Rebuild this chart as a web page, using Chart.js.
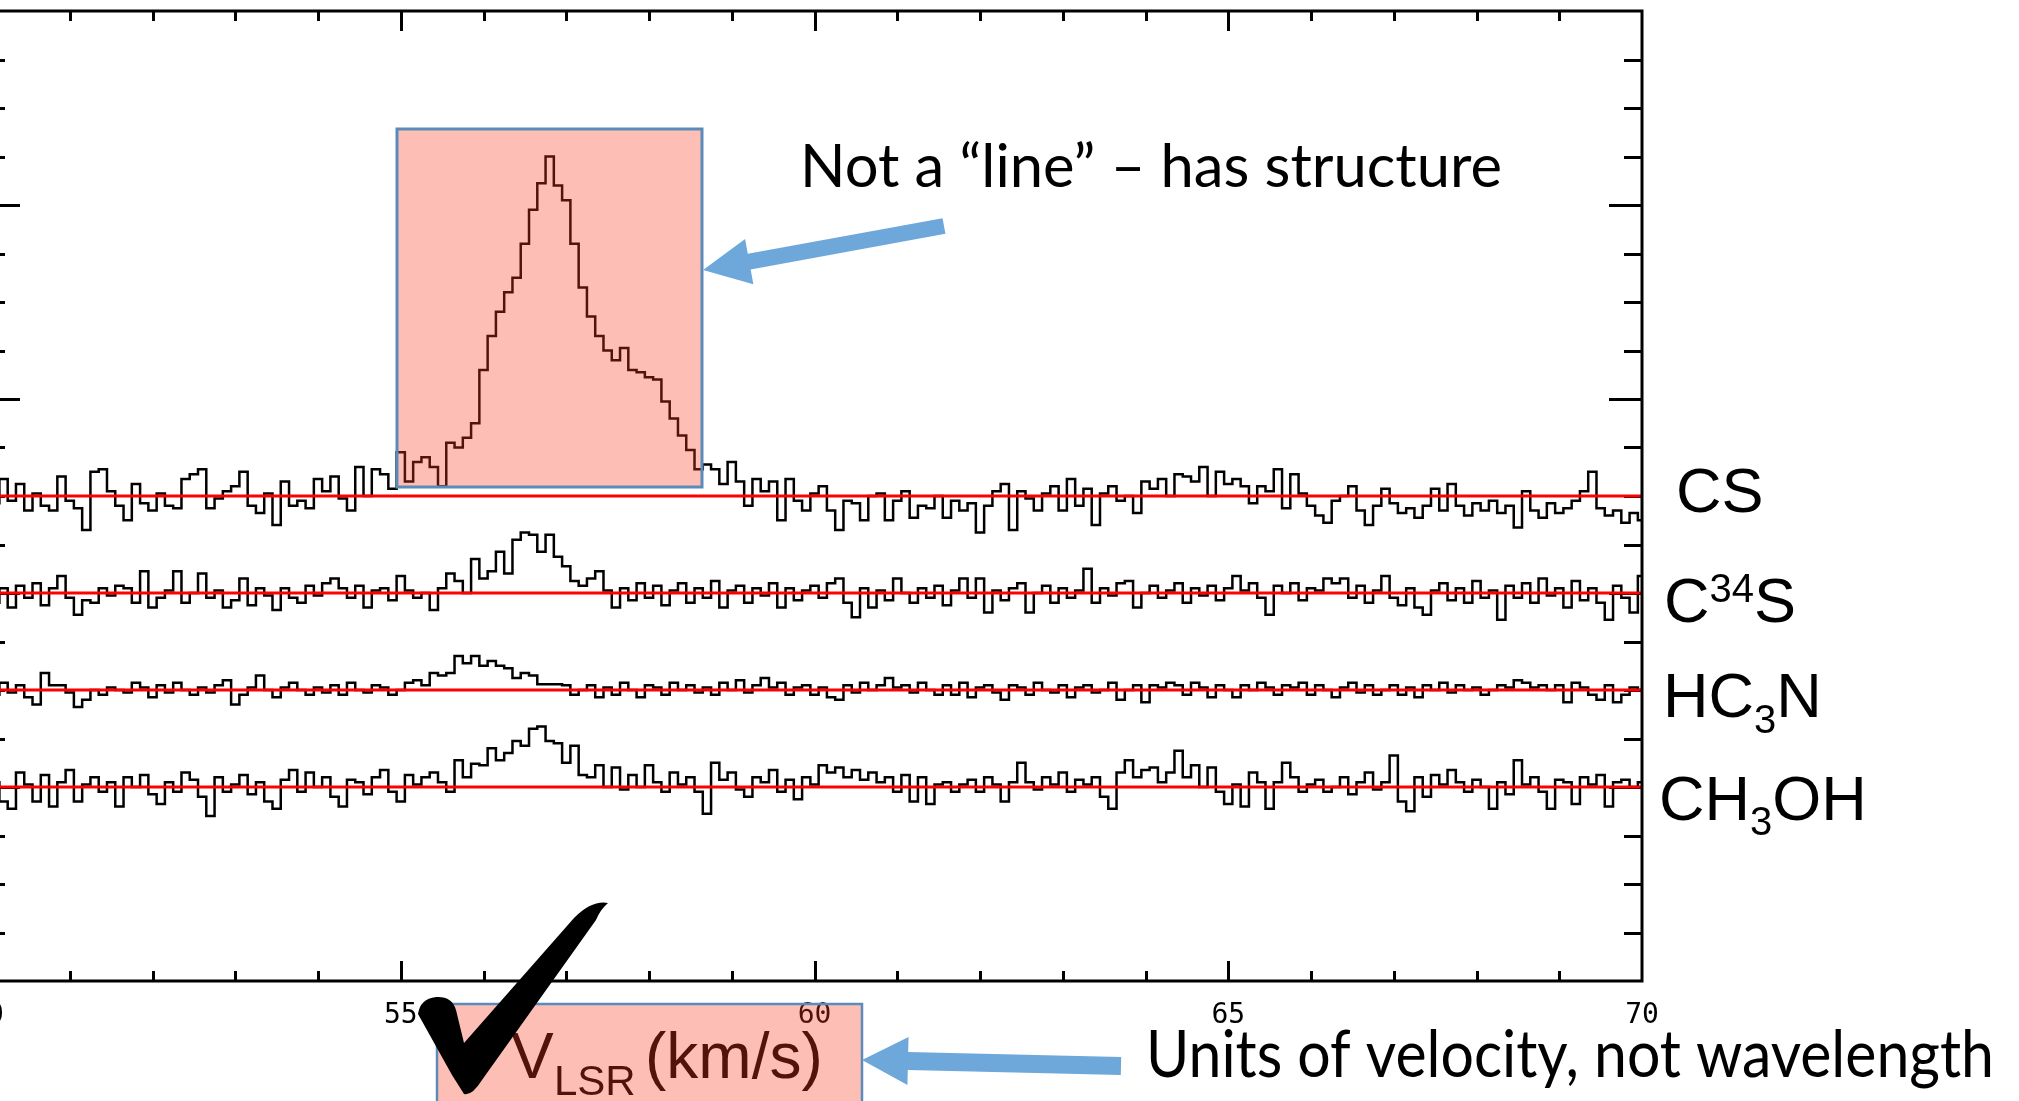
<!DOCTYPE html>
<html><head><meta charset="utf-8">
<script src="https://cdn.jsdelivr.net/npm/chart.js@4.4.1/dist/chart.umd.min.js"></script>
<style>
html,body{margin:0;padding:0;background:#fff;overflow:hidden;width:2019px;height:1101px;}
#wrap{position:absolute;left:-40px;top:0;width:2059px;height:1101px;}
</style></head><body>
<div id="wrap"><canvas id="c" width="2059" height="1101"></canvas></div>
<script>
// ---------------- data ----------------
const channelStart = 50.0;      // km/s, first channel
const channelWidth = 0.1;       // km/s per channel
const species = ['CS', 'C34S', 'HC3N', 'CH3OH'];
const baselineOffsets = [10, 8, 6, 4];
const xTickLabels = ['50', '55', '60', '65', '70'];

const csValues = [
 0.1,-0.15,0.35,-0.1,0.25,-0.3,0.05,-0.2,-0.3,0.4,
 -0.1,-0.25,-0.7,0.5,0.55,0.1,-0.2,-0.5,0.25,-0.15,
 -0.3,0.05,-0.2,-0.25,0.35,0.45,0.55,-0.25,-0.05,0.1,
 0.2,0.5,-0.2,-0.35,0.05,-0.6,0.3,-0.2,-0.1,-0.25,
 0.35,0.1,0.4,-0.05,-0.3,0.6,0.0,0.55,0.45,0.15,
 0.9,0.3,0.7,0.8,0.6,0.2,1.1,1.0,1.2,1.5,
 2.6,3.3,3.8,4.2,4.5,5.2,5.9,6.45,7.0,6.4,
 6.1,5.2,4.3,3.7,3.3,3.0,2.8,3.05,2.6,2.55,
 2.45,2.4,1.95,1.6,1.25,0.95,0.55,0.65,0.55,0.25,
 0.7,0.3,-0.2,0.35,0.1,0.3,-0.5,0.35,-0.1,-0.3,
 0.05,0.2,-0.3,-0.7,-0.1,-0.15,-0.5,0.0,0.05,-0.5,
 -0.1,0.1,-0.45,-0.2,-0.25,0.0,-0.45,-0.1,-0.3,-0.15,
 -0.75,-0.2,0.1,0.25,-0.7,0.1,-0.05,-0.3,0.05,0.2,
 -0.3,0.35,-0.2,0.15,-0.6,0.05,0.2,-0.1,0.0,-0.35,
 0.3,0.15,0.35,0.0,0.45,0.4,0.3,0.6,0.0,0.5,
 0.25,0.35,0.2,-0.15,0.2,0.1,0.55,-0.25,0.45,0.05,
 -0.2,-0.4,-0.55,-0.1,0.0,0.2,-0.3,-0.6,-0.2,0.15,
 -0.15,-0.35,-0.25,-0.45,-0.2,0.15,-0.3,0.25,-0.2,-0.4,
 -0.15,-0.3,-0.1,-0.35,-0.2,-0.65,0.1,-0.3,-0.45,-0.15,
 -0.35,-0.25,-0.1,0.1,0.5,-0.25,-0.4,-0.3,-0.55,-0.35,
 -0.5
];
const c34sValues = [
 0.05,-0.2,0.1,-0.3,0.15,-0.1,0.2,-0.25,0.1,0.35,
 -0.1,-0.45,-0.15,-0.2,0.1,-0.05,0.15,0.1,-0.2,0.45,
 -0.3,-0.1,0.05,0.45,-0.2,0.0,0.4,-0.1,0.05,-0.3,
 -0.15,0.3,-0.25,0.1,-0.05,-0.35,0.1,-0.1,-0.2,0.15,
 -0.05,0.2,0.3,0.1,-0.1,0.15,-0.3,0.05,0.1,-0.15,
 0.35,0.05,-0.1,0.0,-0.35,0.1,0.4,0.25,0.0,0.7,
 0.3,0.45,0.85,0.4,1.1,1.25,1.2,0.85,1.2,0.75,
 0.55,0.25,0.15,0.3,0.45,0.05,-0.3,0.1,-0.15,0.2,
 -0.1,0.15,-0.25,0.05,0.2,-0.2,0.1,-0.1,0.25,-0.3,
 0.05,0.15,-0.2,0.1,-0.05,0.2,-0.3,0.1,-0.15,0.05,
 0.15,-0.1,0.2,0.3,-0.2,-0.5,0.1,-0.3,0.05,-0.15,
 0.3,0.0,-0.2,0.1,-0.1,0.15,-0.25,0.05,0.3,-0.1,
 0.3,-0.4,0.05,-0.15,0.1,0.2,-0.4,0.0,0.15,-0.2,
 0.1,-0.1,0.05,0.5,-0.2,0.1,-0.05,0.2,0.25,-0.3,
 0.0,0.15,-0.1,0.05,0.2,-0.2,0.1,-0.05,0.15,-0.15,
 0.1,0.35,0.05,0.2,-0.1,-0.45,0.15,0.0,0.2,-0.15,
 0.1,0.05,0.3,0.2,0.3,-0.1,0.15,-0.2,0.05,0.35,
 -0.1,-0.25,0.1,-0.3,-0.45,0.05,0.2,-0.15,0.1,-0.2,
 0.25,-0.1,0.05,-0.55,0.15,-0.1,0.2,-0.2,0.3,-0.05,
 0.1,-0.3,0.25,-0.15,0.1,-0.2,-0.55,0.15,-0.1,-0.4,
 0.35
];
const hc3nValues = [
 0.05,-0.1,0.15,-0.05,0.1,-0.15,-0.3,0.35,0.1,0.1,
 -0.05,-0.35,-0.2,0.0,-0.1,0.05,0.0,-0.05,0.15,0.05,
 -0.15,0.1,-0.05,0.15,0.0,-0.1,0.05,-0.05,0.1,0.2,
 -0.3,-0.1,0.05,0.3,0.0,-0.15,0.05,0.15,0.0,-0.1,
 0.05,-0.05,0.1,-0.1,0.15,0.0,-0.05,0.1,0.05,-0.1,
 0.0,0.15,0.2,0.1,0.35,0.3,0.35,0.7,0.55,0.7,
 0.5,0.6,0.5,0.45,0.25,0.35,0.3,0.12,0.12,0.12,
 0.1,-0.1,0.0,0.1,-0.15,0.05,-0.1,0.15,0.0,-0.15,
 0.1,0.05,-0.1,0.15,0.0,0.1,-0.05,0.05,-0.1,0.15,
 0.0,0.2,-0.05,0.1,0.25,0.05,0.15,-0.1,0.05,0.1,
 -0.1,0.05,-0.15,-0.2,0.1,-0.05,0.15,0.0,0.1,0.25,
 0.05,0.1,-0.05,0.15,0.0,-0.1,0.1,-0.1,0.15,-0.15,
 0.05,0.1,-0.05,-0.2,0.1,0.05,-0.1,0.15,0.0,-0.05,
 0.1,-0.15,0.05,0.1,-0.05,0.0,0.15,-0.2,0.0,0.1,
 -0.25,0.1,0.05,0.15,0.1,-0.1,0.15,0.05,-0.15,0.1,
 0.0,-0.15,0.1,0.0,0.15,0.05,-0.1,0.1,0.05,0.15,
 -0.1,0.1,0.0,-0.15,0.05,0.15,-0.05,0.1,-0.1,0.0,
 0.1,-0.1,0.05,-0.15,0.1,0.0,0.15,-0.05,0.1,0.0,
 0.05,-0.1,0.0,0.1,0.05,0.2,0.15,0.05,0.1,0.0,
 0.1,-0.25,0.15,0.05,-0.1,-0.2,0.1,-0.25,-0.1,0.05,
 0.0
];
const ch3ohValues = [
 -0.2,0.1,-0.3,-0.45,0.3,0.05,-0.3,0.25,-0.4,0.1,
 0.35,-0.3,0.05,0.2,-0.1,0.1,-0.4,0.2,0.0,0.25,
 -0.15,-0.35,0.1,-0.1,0.3,0.15,-0.2,-0.6,0.2,-0.1,
 0.05,0.25,-0.15,0.1,-0.3,-0.45,0.15,0.35,-0.1,0.3,
 0.0,0.2,-0.2,-0.4,0.15,0.1,-0.15,0.2,0.35,-0.1,
 -0.3,0.25,0.05,0.2,0.3,0.1,-0.1,0.55,0.2,0.48,
 0.45,0.8,0.55,0.7,0.95,0.85,1.2,1.25,0.95,0.9,
 0.5,0.85,0.25,0.2,0.45,0.0,0.4,-0.05,0.25,0.0,
 0.45,0.1,-0.1,0.3,0.05,0.2,-0.1,-0.55,0.5,0.15,
 0.3,-0.05,-0.2,0.2,0.1,0.35,-0.1,0.15,-0.25,0.2,
 0.05,0.45,0.3,0.4,0.2,0.35,0.15,0.3,0.1,0.2,
 -0.1,0.25,-0.3,0.2,-0.35,0.05,0.1,-0.1,0.05,0.15,
 -0.1,0.2,0.05,-0.3,0.1,0.5,0.1,-0.05,0.2,0.05,
 0.3,-0.1,0.15,0.05,0.2,-0.2,-0.45,0.3,0.55,0.2,
 0.35,0.4,0.1,0.3,0.75,0.2,0.45,0.0,0.4,-0.1,
 -0.35,0.05,-0.4,0.3,0.1,-0.45,0.1,0.5,0.2,-0.1,
 0.05,0.15,-0.1,0.0,0.2,-0.15,0.1,0.3,-0.05,0.1,
 0.65,-0.3,-0.5,0.2,-0.2,0.25,0.05,0.35,0.1,-0.1,
 0.15,0.0,-0.45,0.1,-0.15,0.55,0.05,0.2,-0.1,-0.45,
 0.15,0.1,-0.35,0.2,0.05,0.25,-0.4,0.1,0.15,0.0,
 0.1
];
const spectra = [csValues, c34sValues, hc3nValues, ch3ohValues];

// ---------------- datasets ----------------
const datasets = [];
spectra.forEach((vals, i) => {
  datasets.push({
    label: species[i],
    data: vals.map((v, k) => ({ x: channelStart + k * channelWidth, y: baselineOffsets[i] + v })),
    borderColor: '#000000', borderWidth: 2.5, stepped: 'middle',
    pointRadius: 0, fill: false, order: 2
  });
  datasets.push({
    label: species[i] + ' baseline',
    data: [{ x: 50, y: baselineOffsets[i] }, { x: 70, y: baselineOffsets[i] }],
    borderColor: '#ff0000', borderWidth: 3, pointRadius: 0, fill: false, order: 1
  });
});

const OX = 40; // canvas is shifted 40px left of the page

function fitText(ctx, text, x, y, w) {
  const m = ctx.measureText(text).width;
  ctx.save();
  ctx.translate(x, y);
  ctx.scale(w / m, 1);
  ctx.fillText(text, 0, 0);
  ctx.restore();
}
function drawParts(ctx, parts, x, y) {
  let cx = x;
  parts.forEach(p => {
    const small = p[1] !== 0;
    ctx.font = small ? '40px "Liberation Sans", Arial, sans-serif' : '63px "Liberation Sans", Arial, sans-serif';
    ctx.fillText(p[0], cx, y + p[1]);
    cx += ctx.measureText(p[0]).width;
  });
}
function arrow(ctx, tx, ty, hx, hy, shaft, headL, headW) {
  const dx = hx - tx, dy = hy - ty, L = Math.hypot(dx, dy);
  const ux = dx / L, uy = dy / L, nx = -uy, ny = ux;
  const bx = hx - ux * headL, by = hy - uy * headL;
  ctx.beginPath();
  ctx.moveTo(tx + nx * shaft / 2, ty + ny * shaft / 2);
  ctx.lineTo(bx + nx * shaft / 2, by + ny * shaft / 2);
  ctx.lineTo(bx + nx * headW, by + ny * headW);
  ctx.lineTo(hx, hy);
  ctx.lineTo(bx - nx * headW, by - ny * headW);
  ctx.lineTo(bx - nx * shaft / 2, by - ny * shaft / 2);
  ctx.lineTo(tx - nx * shaft / 2, ty - ny * shaft / 2);
  ctx.closePath();
  ctx.fill();
}

const framePlugin = {
  id: 'frame',
  beforeDatasetsDraw(chart) {
    const { ctx, chartArea: a, scales: { x, y } } = chart;
    ctx.save();
    ctx.strokeStyle = '#000'; ctx.lineWidth = 3; ctx.lineCap = 'butt';
    ctx.beginPath();
    for (let v = 51; v < 70; v++) {
      const px = Math.round(x.getPixelForValue(v)) + 0.5;
      const len = v % 5 === 0 ? 20 : 10;
      ctx.moveTo(px, a.bottom); ctx.lineTo(px, a.bottom - len);
      ctx.moveTo(px, a.top); ctx.lineTo(px, a.top + len);
    }
    for (let v = 1; v < 20; v++) {
      const py = Math.round(y.getPixelForValue(v)) + 0.5;
      const len = v % 4 === 0 ? 33 : 18;
      ctx.moveTo(a.left, py); ctx.lineTo(a.left + len, py);
      ctx.moveTo(a.right, py); ctx.lineTo(a.right - len, py);
    }
    ctx.stroke();
    ctx.restore();
  },
  afterDatasetsDraw(chart) {
    const { ctx, chartArea: a } = chart;
    ctx.save();
    ctx.strokeStyle = '#000'; ctx.lineWidth = 3;
    ctx.strokeRect(a.left, a.top, a.right - a.left, a.bottom - a.top);
    ctx.restore();
  },
  afterDraw(chart) {
    const ctx = chart.ctx;
    ctx.save();
    ctx.translate(OX, 0);
    ctx.fillStyle = '#000';
    ctx.textBaseline = 'alphabetic';
    ctx.textAlign = 'left';
    // species labels
    drawParts(ctx, [['CS', 0]], 1676, 512);
    drawParts(ctx, [['C', 0], ['34', -20], ['S', 0]], 1664, 622);
    drawParts(ctx, [['HC', 0], ['3', 16], ['N', 0]], 1663, 717);
    drawParts(ctx, [['CH', 0], ['3', 15], ['OH', 0]], 1659, 820);
    // axis title (under the overlay)
    ctx.font = '64px "Liberation Sans", Arial, sans-serif';
    ctx.fillText('V', 511, 1078);
    ctx.font = '42px "Liberation Sans", Arial, sans-serif';
    ctx.fillText('LSR', 554, 1095);
    ctx.font = '64px "Liberation Sans", Arial, sans-serif';
    ctx.fillText('(km/s)', 645, 1078);
    // overlay boxes
    ctx.fillStyle = 'rgba(248,60,30,0.33)';
    ctx.fillRect(397, 129, 305, 358);
    ctx.fillRect(437, 1004, 425, 110);
    ctx.strokeStyle = '#5b8bbb'; ctx.lineWidth = 3;
    ctx.strokeRect(397, 129, 305, 358);
    ctx.lineWidth = 2.5;
    ctx.strokeRect(437, 1004, 425, 110);
    // arrows
    ctx.fillStyle = '#6ea8db';
    arrow(ctx, 944, 226, 703, 270, 16, 47, 23);
    arrow(ctx, 1121, 1066, 862, 1060, 18, 46, 24);
    // annotation texts
    ctx.fillStyle = '#000';
    ctx.font = '60px Lato, "Open Sans", sans-serif';
    fitText(ctx, 'Not a \u201cline\u201d \u2013 has structure', 800, 187, 702);
    ctx.font = '66px Lato, "Open Sans", sans-serif';
    fitText(ctx, 'Units of velocity, not wavelength', 1146, 1077, 848);
    // check mark
    ctx.beginPath();
    ctx.moveTo(418, 1014);
    ctx.quadraticCurveTo(420, 999, 436, 997);
    ctx.quadraticCurveTo(452, 996, 456, 1010);
    ctx.lineTo(464, 1043);
    ctx.lineTo(574, 918);
    ctx.quadraticCurveTo(592, 900, 608, 903);
    ctx.quadraticCurveTo(600, 910, 596, 920);
    ctx.lineTo(482, 1080);
    ctx.quadraticCurveTo(472, 1096, 464, 1094);
    ctx.lineTo(452, 1075);
    ctx.closePath();
    ctx.fill();
    ctx.restore();
  }
};

new Chart(document.getElementById('c'), {
  type: 'line',
  data: { datasets },
  options: {
    responsive: false, animation: false, devicePixelRatio: 1, events: [],
    layout: { padding: { left: 27, right: 377, top: 11, bottom: 0 } },
    plugins: { legend: { display: false }, tooltip: { enabled: false } },
    scales: {
      x: {
        type: 'linear', min: 50, max: 70, position: 'bottom',
        grid: { display: false }, border: { display: false },
        ticks: {
          stepSize: 5, autoSkip: false, maxRotation: 0, color: '#000', padding: 10,
          font: { family: '"DejaVu Sans Mono", monospace', size: 28 },
          callback: (v) => xTickLabels[Math.round((v - 50) / 5)] ?? ''
        },
        afterFit: (s) => { s.height = 120; }
      },
      y: { type: 'linear', min: 0, max: 20, display: false }
    }
  },
  plugins: [framePlugin]
});
</script>
</body></html>
